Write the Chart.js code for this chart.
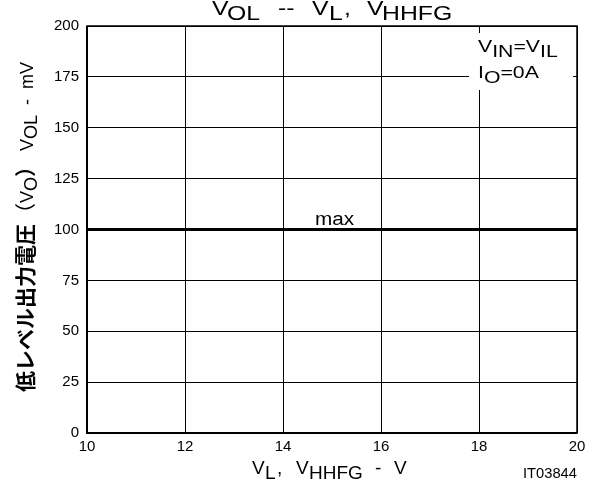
<!DOCTYPE html>
<html>
<head>
<meta charset="utf-8">
<script src="https://cdn.jsdelivr.net/npm/chart.js@4/dist/chart.umd.min.js"></script>
<style>
  html, body { margin: 0; padding: 0; background: #fff; }
  #wrap { width: 604px; height: 486px; }
</style>
</head>
<body>
<div id="wrap"><canvas id="c" width="604" height="486"></canvas></div>
<script>
// Supply voltage (V) and maximum low-level output voltage (mV)
const supplyVoltage = [10, 20];
const volMax = [100, 100];
const xTicks = [10, 12, 14, 16, 18, 20];
const yTicks = [0, 25, 50, 75, 100, 125, 150, 175, 200];

const SANS = '"Liberation Sans", Arial, sans-serif';
const CJK = '"Noto Sans CJK JP", sans-serif';

// Draw a sequence of runs; each run = [text, baselineShift, font]; sx = horizontal text stretch
function drawRuns(ctx, x, y, runs, align, sx) {
  sx = sx || 1;
  let total = 0;
  const widths = runs.map(r => { ctx.font = r[2]; const w = ctx.measureText(r[0]).width * sx; total += w; return w; });
  let cx = align === 'center' ? x - total / 2 : (align === 'right' ? x - total : x);
  ctx.textAlign = 'left';
  ctx.textBaseline = 'alphabetic';
  runs.forEach((r, i) => {
    ctx.save();
    ctx.translate(cx, y + r[1]);
    ctx.scale(sx, 1);
    ctx.font = r[2];
    ctx.fillText(r[0], 0, 0);
    ctx.restore();
    cx += widths[i];
  });
}

// Draw runs at given left positions; each run = [text, x, y, font]
function drawPlaced(ctx, runs, sx) {
  ctx.textAlign = 'left';
  ctx.textBaseline = 'alphabetic';
  runs.forEach(r => {
    ctx.save();
    ctx.translate(r[1], r[2]);
    ctx.scale(sx || 1, 1);
    ctx.font = r[3];
    ctx.fillText(r[0], 0, 0);
    ctx.restore();
  });
}

const textPlugin = {
  id: 'texts',
  afterDraw(chart) {
    const ctx = chart.ctx;
    const area = chart.chartArea;
    const xs = chart.scales.x, ys = chart.scales.y;
    ctx.save();
    ctx.fillStyle = '#000';

    // frame
    ctx.strokeStyle = '#000';
    ctx.lineWidth = 1.5;
    ctx.strokeRect(area.left, area.top, area.right - area.left, area.bottom - area.top);
    ctx.lineWidth = 2;
    ctx.beginPath();
    ctx.moveTo(area.left, area.top); ctx.lineTo(area.left, area.bottom); ctx.lineTo(area.right, area.bottom);
    ctx.stroke();

    // title
    const f21 = '21px ' + SANS;
    drawPlaced(ctx, [
      ['V', 212, 15, f21], ['OL', 227, 20, f21], ['--', 278, 15, f21],
      ['V', 312, 15, f21], ['L', 329, 20, f21], [',', 344, 15, f21],
      ['V', 367, 15, f21], ['HHFG', 382, 20, f21]
    ], 1.18);

    // x-axis title
    const f19 = '19px ' + SANS;
    drawPlaced(ctx, [
      ['V', 252, 474, f19], ['L', 265, 479, f19], [',', 277, 474, f19],
      ['V', 296, 474, f19], ['HHFG', 309, 479, f19], ['-', 375, 474, f19], ['V', 394, 474, f19]
    ], 1);

    // figure id
    drawPlaced(ctx, [['IT03844', 523, 478, '14px ' + SANS]], 1.05);

    // y-axis title
    ctx.save();
    ctx.translate(33, 227);
    ctx.rotate(-Math.PI / 2);
    const fj = 'bold 21px ' + CJK;
    const fp = '21px ' + CJK;
    const f18 = '18px ' + SANS;
    drawRuns(ctx, 0, 0, [
      ['低レベル出力電圧', 0, fj], ['（', 0, fp], ['V', 0, f18], ['O', 4, f18], ['）', 0, fj],
      [' V', 0, f18], ['OL', 4, f18], ['  -  mV', 0, f18]
    ], 'center');
    ctx.restore();

    // conditions box
    ctx.fillStyle = '#fff';
    ctx.fillRect(469, 33, 104, 57);
    ctx.fillStyle = '#000';
    const f17 = '17px ' + SANS;
    drawRuns(ctx, 478, 52, [['V', 0, f17], ['IN', 5, f17], ['=V', 0, f17], ['IL', 5, f17]], 'left', 1.25);
    drawRuns(ctx, 478, 78, [['I', 0, f17], ['O', 5, f17], ['=0A', 0, f17]], 'left', 1.25);

    // curve label
    drawRuns(ctx, xs.getPixelForValue(15.05), ys.getPixelForValue(volMax[0]) - 5,
      [['max', 0, '18px ' + SANS]], 'center', 1.15);
    ctx.restore();
  }
};

new Chart(document.getElementById('c'), {
  type: 'line',
  data: {
    datasets: [{
      data: supplyVoltage.map((v, i) => ({ x: v, y: volMax[i] })),
      borderColor: '#000',
      borderWidth: 3,
      pointRadius: 0,
      fill: false
    }]
  },
  options: {
    responsive: false,
    animation: false,
    layout: { padding: { top: 26, right: 27, left: 0, bottom: 0 } },
    plugins: { legend: { display: false }, tooltip: { enabled: false } },
    scales: {
      x: {
        type: 'linear', min: 10, max: 20,
        afterBuildTicks: s => { s.ticks = xTicks.map(v => ({ value: v })); },
        ticks: { color: '#000', font: { family: SANS, size: 15 }, padding: 5, maxRotation: 0 },
        grid: { color: '#000', lineWidth: 1, drawTicks: false },
        border: { display: false },
        afterFit: s => { s.height = 486 - 433; }
      },
      y: {
        type: 'linear', min: 0, max: 200,
        afterBuildTicks: s => { s.ticks = yTicks.map(v => ({ value: v })); },
        ticks: { color: '#000', font: { family: SANS, size: 15 }, padding: 8 },
        grid: { color: '#000', lineWidth: 1, drawTicks: false },
        border: { display: false },
        afterFit: s => { s.width = 87; }
      }
    }
  },
  plugins: [textPlugin]
});
</script>
</body>
</html>
